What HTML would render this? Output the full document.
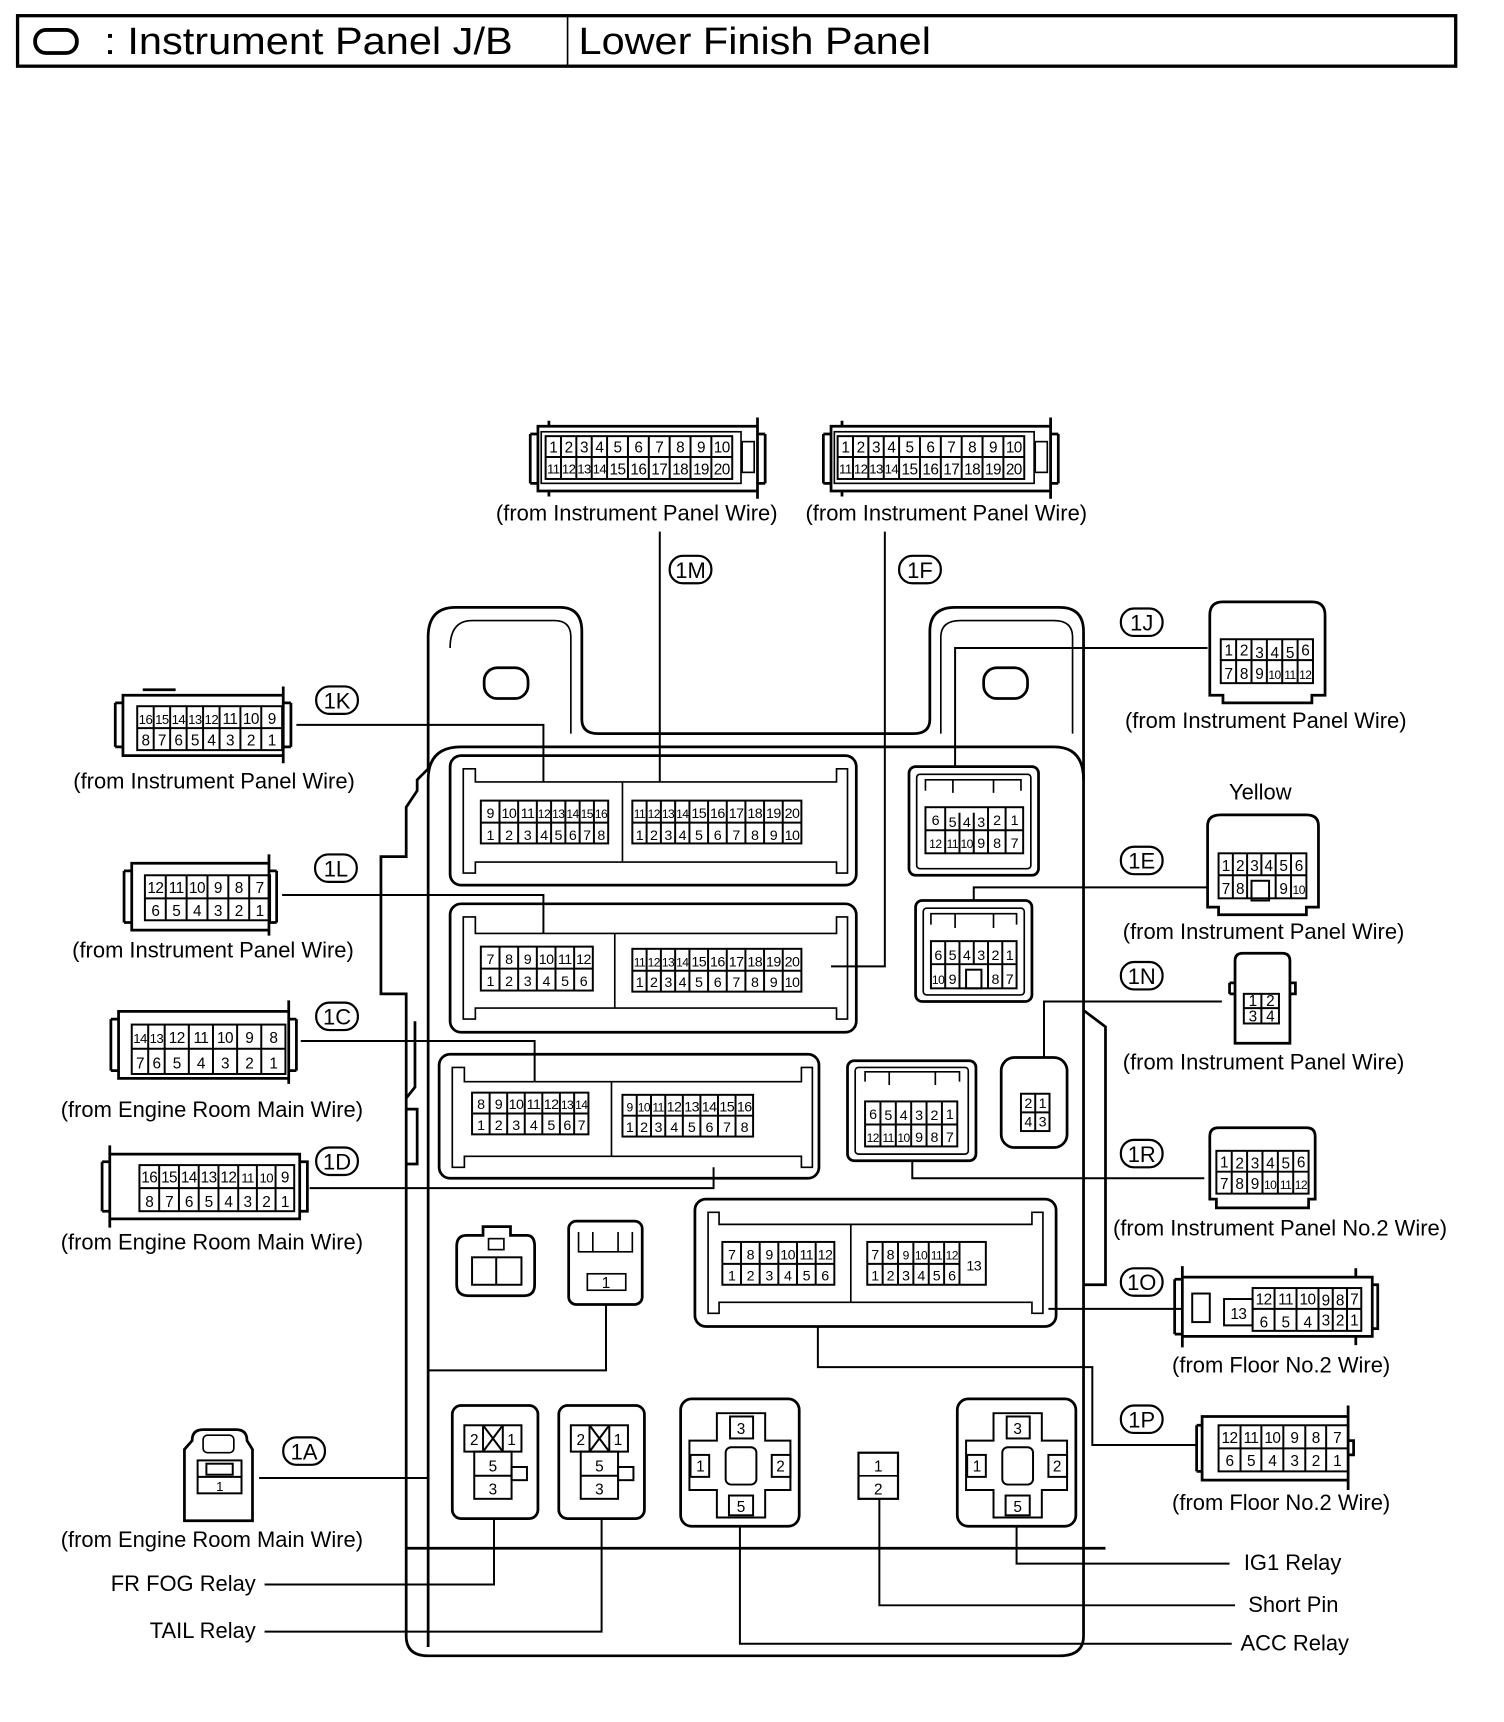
<!DOCTYPE html>
<html><head><meta charset="utf-8"><style>
html,body{margin:0;padding:0;background:#fff}
svg{display:block}
text{font-family:"Liberation Sans",sans-serif;fill:#000}
</style></head><body>
<svg width="1504" height="1722" viewBox="0 0 1370 1568" xmlns="http://www.w3.org/2000/svg">
<g fill="none" stroke="#000" stroke-width="2.5">
<rect x="16" y="14" width="1310" height="46" stroke-width="3"/>
<line x1="517" y1="14" x2="517" y2="60" stroke-width="1.5"/>
<rect x="32" y="27" width="38" height="21" rx="10" stroke-width="3.5"/>
</g>
<g font-size="35"><text x="95" y="49" textLength="372" lengthAdjust="spacingAndGlyphs">: Instrument Panel J/B</text><text x="527" y="49" textLength="321" lengthAdjust="spacingAndGlyphs">Lower Finish Panel</text></g>

<g fill="none" stroke="#000" stroke-width="2.5">
<path d="M390,580 Q390,553 415,553 L510,553 Q530,553 530,575 L530,655 Q530,668 545,668 L832,668 Q847,668 847,655 L847,575 Q847,553 870,553 L965,553 Q987,553 987,575 L987,1490 Q987,1508 965,1508 L390,1508 Q370,1508 370,1490 L370,905 L347,905 L347,780 L370,780 L370,735 L380,720 L380,710 L390,700 Z"/>
<path d="M390,1500 L390,710 Q390,680 420,680 L960,680 Q987,680 987,710"/>
<path d="M410,590 Q410,565 430,565 L505,565 Q520,565 520,580 L520,668" stroke-width="1.5"/>
<path d="M857,668 L857,580 Q857,565 875,565 L960,565 Q977,565 977,580 L977,668" stroke-width="1.5"/>
<rect x="441" y="608" width="40" height="28" rx="12"/>
<rect x="896" y="608" width="40" height="28" rx="12"/>
<path d="M987,920 L1007,935 L1007,1170 L987,1170"/>
<line x1="370" y1="1410" x2="1007" y2="1410"/>
<path d="M370,1000 L378,990 L378,930 M370,1010 L380,1010 L380,1060 L370,1060"/>
</g>

<g fill="none" stroke="#000" stroke-width="2.5">
<rect x="410" y="688" width="370" height="118" rx="10"/>
<path d="M422,700 L433,700 L433,712 L762,712 L762,700 L772,700 L772,795 L762,795 L762,785 L433,785 L433,795 L422,795 Z" stroke-width="1.5"/>
<line x1="567" y1="712" x2="567" y2="785" stroke-width="1.5"/>
<rect x="410" y="823" width="370" height="117" rx="10"/>
<path d="M422,835 L433,835 L433,850 L762,850 L762,835 L772,835 L772,928 L762,928 L762,918 L433,918 L433,928 L422,928 Z" stroke-width="1.5"/>
<line x1="560" y1="850" x2="560" y2="918" stroke-width="1.5"/>
<rect x="400" y="960" width="346" height="113" rx="10"/>
<path d="M412,972 L423,972 L423,985 L730,985 L730,972 L740,972 L740,1063 L730,1063 L730,1053 L423,1053 L423,1063 L412,1063 Z" stroke-width="1.5"/>
<line x1="557" y1="985" x2="557" y2="1053" stroke-width="1.5"/>
<rect x="633" y="1092" width="329" height="116" rx="10"/>
<path d="M645,1104 L655,1104 L655,1115 L940,1115 L940,1104 L950,1104 L950,1196 L940,1196 L940,1186 L655,1186 L655,1196 L645,1196 Z" stroke-width="1.5"/>
<line x1="775" y1="1115" x2="775" y2="1186" stroke-width="1.5"/>
<rect x="828" y="698" width="118" height="99" rx="6"/>
<rect x="835" y="705" width="104" height="86" rx="3" stroke-width="1.5"/>
<path d="M843,720 L843,710 L930,710 L930,720 M868,710 L868,722 M905,710 L905,722" stroke-width="1.5"/>
<rect x="834" y="820" width="106" height="92" rx="6"/>
<rect x="841" y="827" width="92" height="79" rx="3" stroke-width="1.5"/>
<path d="M848,842 L848,832 L926,832 L926,842 M870,832 L870,845 M905,832 L905,845" stroke-width="1.5"/>
<rect x="772" y="966" width="117" height="91" rx="6"/>
<rect x="779" y="972" width="103" height="79" rx="3" stroke-width="1.5"/>
<path d="M788,985 L788,976 L874,976 L874,985 M810,976 L810,988 M852,976 L852,988" stroke-width="1.5"/>
<rect x="912" y="963" width="60" height="82" rx="12"/>
<path d="M425,1125 L440,1125 L440,1117 L465,1117 L465,1125 L480,1125 Q487,1125 487,1135 L487,1170 Q487,1180 477,1180 L427,1180 Q416,1180 416,1170 L416,1135 Q416,1125 425,1125 Z"/>
<rect x="430" y="1145" width="45" height="25" stroke-width="1.8"/>
<line x1="452" y1="1145" x2="452" y2="1170" stroke-width="1.8"/>
<rect x="445" y="1128" width="14" height="10" stroke-width="1.5"/>
<rect x="518" y="1112" width="67" height="76" rx="7"/>
<path d="M527,1122 L527,1140 L576,1140 L576,1122 M540,1122 L540,1140 M563,1122 L563,1140" stroke-width="1.5"/>
<rect x="535" y="1160" width="35" height="15" stroke-width="1.5"/>
<rect x="412" y="1280" width="78" height="103" rx="8"/>
<rect x="509" y="1280" width="78" height="103" rx="8"/>
<rect x="620" y="1274" width="108" height="116" rx="10"/>
<rect x="872" y="1274" width="108" height="116" rx="10"/>
<rect x="782" y="1323" width="36" height="42" stroke-width="2"/>
<line x1="782" y1="1344" x2="818" y2="1344" stroke-width="1.5"/>
</g>

<g fill="none" stroke="#000" stroke-width="1.8">
<g>
<rect x="423" y="1298" width="52" height="24"/><line x1="440" y1="1298" x2="440" y2="1322"/><line x1="458" y1="1298" x2="458" y2="1322"/>
<line x1="440" y1="1298" x2="458" y2="1322"/><line x1="458" y1="1298" x2="440" y2="1322"/>
<rect x="432" y="1322" width="34" height="43"/><line x1="432" y1="1344" x2="466" y2="1344"/>
<rect x="466" y="1336" width="14" height="12"/>
</g>
<g transform="translate(97,0)">
<rect x="423" y="1298" width="52" height="24"/><line x1="440" y1="1298" x2="440" y2="1322"/><line x1="458" y1="1298" x2="458" y2="1322"/>
<line x1="440" y1="1298" x2="458" y2="1322"/><line x1="458" y1="1298" x2="440" y2="1322"/>
<rect x="432" y="1322" width="34" height="43"/><line x1="432" y1="1344" x2="466" y2="1344"/>
<rect x="466" y="1336" width="14" height="12"/>
</g>
<g>
<path d="M653,1287 L697,1287 L697,1312 L720,1312 L720,1357 L697,1357 L697,1382 L653,1382 L653,1357 L628,1357 L628,1312 L653,1312 Z"/>
<rect x="665" y="1290" width="21" height="20"/><rect x="629" y="1325" width="17" height="20"/><rect x="703" y="1325" width="17" height="20"/><rect x="664" y="1362" width="22" height="18"/>
<rect x="661" y="1318" width="28" height="34" rx="5"/>
</g>
<g transform="translate(252,0)">
<path d="M653,1287 L697,1287 L697,1312 L720,1312 L720,1357 L697,1357 L697,1382 L653,1382 L653,1357 L628,1357 L628,1312 L653,1312 Z"/>
<rect x="665" y="1290" width="21" height="20"/><rect x="629" y="1325" width="17" height="20"/><rect x="703" y="1325" width="17" height="20"/><rect x="664" y="1362" width="22" height="18"/>
<rect x="661" y="1318" width="28" height="34" rx="5"/>
</g>
</g>
<g font-size="14" text-anchor="middle">
<text x="432" y="1316">2</text><text x="466" y="1316">1</text><text x="449" y="1340">5</text><text x="449" y="1361">3</text>
<text x="529" y="1316">2</text><text x="563" y="1316">1</text><text x="546" y="1340">5</text><text x="546" y="1361">3</text>
<text x="675" y="1306">3</text><text x="638" y="1340">1</text><text x="711" y="1340">2</text><text x="675" y="1377">5</text>
<text x="927" y="1306">3</text><text x="890" y="1340">1</text><text x="963" y="1340">2</text><text x="927" y="1377">5</text>
<text x="800" y="1340">1</text><text x="800" y="1361">2</text>
<text x="552" y="1173">1</text>
</g>

<g fill="none" stroke="#000" stroke-width="1.8">
<rect x="438" y="729" width="116" height="39"/><line x1="438" y1="749" x2="554" y2="749"/>
<path d="M455,729V768M472,729V768M489,729V768M502,729V768M515,729V768M528,729V768M541,729V768"/>
<rect x="576" y="729" width="154" height="39"/><line x1="576" y1="749" x2="730" y2="749"/>
<path d="M589,729V768M602,729V768M615,729V768M628,729V768M645,729V768M662,729V768M679,729V768M696,729V768M713,729V768"/>
<rect x="438" y="862" width="102" height="40"/><line x1="438" y1="882" x2="540" y2="882"/>
<path d="M455,862V902M472,862V902M489,862V902M506,862V902M523,862V902"/>
<rect x="576" y="864" width="154" height="39"/><line x1="576" y1="884" x2="730" y2="884"/>
<path d="M589,864V903M602,864V903M615,864V903M628,864V903M645,864V903M662,864V903M679,864V903M696,864V903M713,864V903"/>
<rect x="430" y="995" width="106" height="38"/><line x1="430" y1="1014" x2="536" y2="1014"/>
<path d="M446,995V1033M462,995V1033M478,995V1033M494,995V1033M510,995V1033M523,995V1033"/>
<rect x="567" y="997" width="119" height="38"/><line x1="567" y1="1016" x2="686" y2="1016"/>
<path d="M580,997V1035M593,997V1035M606,997V1035M622,997V1035M638,997V1035M654,997V1035M670,997V1035"/>
<rect x="843" y="735" width="89" height="42"/><line x1="843" y1="756" x2="932" y2="756"/>
<path d="M861,735V777M874,740V777M887,740V777M900,735V777M916,735V777"/>
<rect x="848" y="857" width="78" height="43"/><line x1="848" y1="878" x2="926" y2="878"/>
<path d="M861,857V900M874,857V878M887,857V878M900,857V900M913,857V900M874,878V900"/>
<rect x="880" y="883" width="14" height="17"/>
<rect x="788" y="1003" width="84" height="41"/><line x1="788" y1="1024" x2="872" y2="1024"/>
<path d="M802,1003V1044M816,1003V1044M830,1003V1044M844,1003V1044M858,1003V1044"/>
<rect x="930" y="996" width="26" height="34"/><line x1="930" y1="1013" x2="956" y2="1013"/><line x1="943" y1="996" x2="943" y2="1030"/>
<rect x="658" y="1131" width="102" height="39"/><line x1="658" y1="1151" x2="760" y2="1151"/>
<path d="M675,1131V1170M692,1131V1170M709,1131V1170M726,1131V1170M743,1131V1170"/>
<rect x="790" y="1131" width="108" height="39"/><line x1="790" y1="1151" x2="874" y2="1151"/>
<path d="M804,1131V1170M818,1131V1170M832,1131V1170M846,1131V1170M860,1131V1170M874,1131V1170"/>
</g>
<g font-size="13" text-anchor="middle" letter-spacing="-0.5">
<text x="446.5" y="745">9</text><text x="463.5" y="745">10</text><text x="480.5" y="745">11</text><text x="495.5" y="745" font-size="11">12</text><text x="508.5" y="745" font-size="11">13</text><text x="521.5" y="745" font-size="11">14</text><text x="534.5" y="745" font-size="11">15</text><text x="547.5" y="745" font-size="11">16</text>
<text x="446.5" y="765">1</text><text x="463.5" y="765">2</text><text x="480.5" y="765">3</text><text x="495.5" y="765">4</text><text x="508.5" y="765">5</text><text x="521.5" y="765">6</text><text x="534.5" y="765">7</text><text x="547.5" y="765">8</text>
<text x="582.5" y="745" font-size="11">11</text><text x="595.5" y="745" font-size="11">12</text><text x="608.5" y="745" font-size="11">13</text><text x="621.5" y="745" font-size="11">14</text><text x="636.5" y="745">15</text><text x="653.5" y="745">16</text><text x="670.5" y="745">17</text><text x="687.5" y="745">18</text><text x="704.5" y="745">19</text><text x="721.5" y="745">20</text>
<text x="582.5" y="765">1</text><text x="595.5" y="765">2</text><text x="608.5" y="765">3</text><text x="621.5" y="765">4</text><text x="636.5" y="765">5</text><text x="653.5" y="765">6</text><text x="670.5" y="765">7</text><text x="687.5" y="765">8</text><text x="704.5" y="765">9</text><text x="721.5" y="765">10</text>
<text x="446.5" y="878">7</text><text x="463.5" y="878">8</text><text x="480.5" y="878">9</text><text x="497.5" y="878">10</text><text x="514.5" y="878">11</text><text x="531.5" y="878">12</text>
<text x="446.5" y="898">1</text><text x="463.5" y="898">2</text><text x="480.5" y="898">3</text><text x="497.5" y="898">4</text><text x="514.5" y="898">5</text><text x="531.5" y="898">6</text>
<text x="582.5" y="880" font-size="11">11</text><text x="595.5" y="880" font-size="11">12</text><text x="608.5" y="880" font-size="11">13</text><text x="621.5" y="880" font-size="11">14</text><text x="636.5" y="880">15</text><text x="653.5" y="880">16</text><text x="670.5" y="880">17</text><text x="687.5" y="880">18</text><text x="704.5" y="880">19</text><text x="721.5" y="880">20</text>
<text x="582.5" y="899">1</text><text x="595.5" y="899">2</text><text x="608.5" y="899">3</text><text x="621.5" y="899">4</text><text x="636.5" y="899">5</text><text x="653.5" y="899">6</text><text x="670.5" y="899">7</text><text x="687.5" y="899">8</text><text x="704.5" y="899">9</text><text x="721.5" y="899">10</text>
<text x="438" y="1010">8</text><text x="454" y="1010">9</text><text x="470" y="1010">10</text><text x="486" y="1010">11</text><text x="502" y="1010">12</text><text x="516.5" y="1010" font-size="11">13</text><text x="529.5" y="1010" font-size="11">14</text>
<text x="438" y="1029">1</text><text x="454" y="1029">2</text><text x="470" y="1029">3</text><text x="486" y="1029">4</text><text x="502" y="1029">5</text><text x="516.5" y="1029">6</text><text x="529.5" y="1029">7</text>
<text x="573.5" y="1012" font-size="11">9</text><text x="586.5" y="1012" font-size="11">10</text><text x="599.5" y="1012" font-size="11">11</text><text x="614" y="1012">12</text><text x="630" y="1012">13</text><text x="646" y="1012">14</text><text x="662" y="1012">15</text><text x="678" y="1012">16</text>
<text x="573.5" y="1031">1</text><text x="586.5" y="1031">2</text><text x="599.5" y="1031">3</text><text x="614" y="1031">4</text><text x="630" y="1031">5</text><text x="646" y="1031">6</text><text x="662" y="1031">7</text><text x="678" y="1031">8</text>
<text x="852" y="751">6</text><text x="867.5" y="753">5</text><text x="880.5" y="753">4</text><text x="893.5" y="753">3</text><text x="908" y="751">2</text><text x="924" y="751">1</text>
<text x="852" y="772" font-size="11">12</text><text x="867.5" y="772" font-size="11">11</text><text x="880.5" y="772" font-size="11">10</text><text x="893.5" y="772">9</text><text x="908" y="772">8</text><text x="924" y="772">7</text>
<text x="854.5" y="874">6</text><text x="867.5" y="874">5</text><text x="880.5" y="874">4</text><text x="893.5" y="874">3</text><text x="906.5" y="874">2</text><text x="919.5" y="874">1</text>
<text x="854.5" y="896" font-size="11">10</text><text x="867.5" y="896">9</text><text x="906.5" y="896">8</text><text x="919.5" y="896">7</text>
<text x="795" y="1019">6</text><text x="809" y="1020">5</text><text x="823" y="1020">4</text><text x="837" y="1020">3</text><text x="851" y="1020">2</text><text x="865" y="1019">1</text>
<text x="795" y="1040" font-size="11">12</text><text x="809" y="1040" font-size="11">11</text><text x="823" y="1040" font-size="11">10</text><text x="837" y="1040">9</text><text x="851" y="1040">8</text><text x="865" y="1040">7</text>
<text x="936.5" y="1009">2</text><text x="949.5" y="1009">1</text><text x="936.5" y="1026">4</text><text x="949.5" y="1026">3</text>
<text x="666.5" y="1147">7</text><text x="683.5" y="1147">8</text><text x="700.5" y="1147">9</text><text x="717.5" y="1147">10</text><text x="734.5" y="1147">11</text><text x="751.5" y="1147">12</text>
<text x="666.5" y="1166">1</text><text x="683.5" y="1166">2</text><text x="700.5" y="1166">3</text><text x="717.5" y="1166">4</text><text x="734.5" y="1166">5</text><text x="751.5" y="1166">6</text>
<text x="797" y="1147">7</text><text x="811" y="1147">8</text><text x="825" y="1147" font-size="11">9</text><text x="839" y="1147" font-size="11">10</text><text x="853" y="1147" font-size="11">11</text><text x="867" y="1147" font-size="11">12</text>
<text x="797" y="1166">1</text><text x="811" y="1166">2</text><text x="825" y="1166">3</text><text x="839" y="1166">4</text><text x="853" y="1166">5</text><text x="867" y="1166">6</text>
<text x="887" y="1157">13</text>
</g>

<g fill="none" stroke="#000" stroke-width="2.5">
<path d="M490,388 L690,388 L690,447 L490,447 Z M483,395 L490,395 M483,440 L490,440 M483,395 L483,440 M690,380 L690,388 M697,395 L697,440 M690,395 L697,395 M690,440 L697,440 M690,447 L690,454 M500,383 L500,388 M500,447 L500,452"/>
<rect x="493" y="393" width="182" height="47" stroke-width="1.5"/>
<rect x="676" y="402" width="11" height="28" stroke-width="1.5"/>
<path d="M757,388 L957,388 L957,447 L757,447 Z M750,395 L757,395 M750,440 L757,440 M750,395 L750,440 M957,380 L957,388 M964,395 L964,440 M957,395 L964,395 M957,440 L964,440 M957,447 L957,454 M767,383 L767,388 M767,447 L767,452"/>
<rect x="760" y="393" width="182" height="47" stroke-width="1.5"/>
<rect x="943" y="402" width="11" height="28" stroke-width="1.5"/>
<path d="M112,633 L258,633 L258,688 L112,688 Z M105,640 L112,640 M105,680 L112,680 M105,640 L105,680 M258,625 L258,695 M265,640 L265,680 M258,640 L265,640 M258,680 L265,680 M130,628 L160,628"/>
<path d="M120,786 L245,786 L245,847 L120,847 Z M113,793 L120,793 M113,840 L120,840 M113,793 L113,840 M245,778 L245,852 M252,793 L252,840 M245,793 L252,793 M245,840 L252,840"/>
<path d="M108,921 L263,921 L263,982 L108,982 Z M101,928 L108,928 M101,975 L108,975 M101,928 L101,975 M263,911 L263,987 M270,928 L270,975 M263,928 L270,928 M263,975 L270,975"/>
<path d="M100,1051 L273,1051 L273,1110 L100,1110 Z M93,1058 L100,1058 M93,1103 L100,1103 M93,1058 L93,1103 M100,1043 L100,1051 M100,1110 L100,1118 M273,1058 L280,1058 L280,1103 L273,1103"/>
<path d="M175,1312 Q175,1302 185,1302 L215,1302 Q225,1302 225,1312 L230,1320 L230,1385 L168,1385 L168,1320 Z"/>
<rect x="185" y="1307" width="28" height="16" rx="4" stroke-width="1.5"/>
<path d="M1102,560 Q1102,548 1114,548 L1195,548 Q1207,548 1207,560 L1207,633 L1195,633 L1195,640 L1114,640 L1114,633 L1102,633 Z"/>
<path d="M1100,752 Q1100,742 1112,742 L1190,742 Q1201,742 1201,752 L1201,826 L1190,826 L1190,833 L1110,833 L1110,826 L1100,826 Z"/>
<path d="M1125,875 Q1125,868 1132,868 L1168,868 Q1175,868 1175,875 L1175,950 L1125,950 Z M1120,895 L1125,895 M1120,905 L1125,905 M1120,895 L1120,905 M1175,895 L1180,895 L1180,905 L1175,905"/>
<path d="M1102,1035 Q1102,1027 1110,1027 L1190,1027 Q1198,1027 1198,1035 L1198,1092 L1192,1092 L1192,1100 L1108,1100 L1108,1092 L1102,1092 Z"/>
<path d="M1077,1153 L1077,1227 M1070,1165 L1077,1165 M1070,1215 L1077,1215 M1070,1165 L1070,1215 M1077,1163 L1250,1163 L1250,1217 L1077,1217 M1250,1170 L1255,1170 L1255,1210 L1250,1210 M1235,1155 L1235,1163 M1235,1217 L1235,1225"/>
<path d="M1095,1290 L1228,1290 L1228,1348 L1095,1348 Z M1090,1298 L1095,1298 M1090,1340 L1095,1340 M1090,1298 L1090,1340 M1228,1280 L1228,1357 M1228,1312 L1233,1312 L1233,1325 L1228,1325"/>
</g>
<g fill="none" stroke="#000" stroke-width="1.8">
<rect x="497" y="397" width="170" height="39"/><line x1="497" y1="416" x2="667" y2="416"/>
<path d="M511,397V436M525,397V436M539,397V436M553,397V436M572,397V436M591,397V436M610,397V436M629,397V436M648,397V436"/>
<rect x="763" y="397" width="170" height="39"/><line x1="763" y1="416" x2="933" y2="416"/>
<path d="M777,397V436M791,397V436M805,397V436M819,397V436M838,397V436M857,397V436M876,397V436M895,397V436M914,397V436"/>
<rect x="125" y="643" width="132" height="40"/><line x1="125" y1="663" x2="257" y2="663"/>
<path d="M140,643V683M155,643V683M170,643V683M185,643V683M200,643V683M219,643V683M238,643V683"/>
<rect x="132" y="797" width="114" height="41"/><line x1="132" y1="818" x2="246" y2="818"/>
<path d="M151,797V838M170,797V838M189,797V838M208,797V838M227,797V838"/>
<rect x="120" y="933" width="140" height="45"/><line x1="120" y1="955" x2="260" y2="955"/>
<path d="M135,933V978M150,933V978M172,933V978M194,933V978M216,933V978M238,933V978"/>
<rect x="127" y="1061" width="141" height="42"/><line x1="127" y1="1082" x2="268" y2="1082"/>
<path d="M145,1061V1103M163,1061V1103M181,1061V1103M199,1061V1103M217,1061V1103M234,1061V1103M251,1061V1103"/>
<rect x="180" y="1330" width="40" height="30"/><line x1="180" y1="1345" x2="220" y2="1345"/>
<rect x="188" y="1333" width="24" height="10"/>
<rect x="1112" y="582" width="84" height="40"/><line x1="1112" y1="601" x2="1196" y2="601"/>
<path d="M1126,582V622M1140,582V622M1154,582V622M1168,582V622M1182,582V622"/>
<rect x="1110" y="777" width="80" height="41"/><line x1="1110" y1="797" x2="1190" y2="797"/>
<path d="M1123,777V818M1136,777V818M1149,777V797M1162,777V818M1176,777V818"/>
<rect x="1140" y="802" width="16" height="18"/>
<rect x="1133" y="905" width="32" height="27"/><line x1="1133" y1="918" x2="1165" y2="918"/><line x1="1149" y1="905" x2="1149" y2="932"/>
<rect x="1108" y="1048" width="84" height="39"/><line x1="1108" y1="1067" x2="1192" y2="1067"/>
<path d="M1122,1048V1087M1136,1048V1087M1150,1048V1087M1164,1048V1087M1178,1048V1087"/>
<rect x="1115" y="1183" width="26" height="24"/>
<rect x="1141" y="1173" width="99" height="39"/><line x1="1141" y1="1192" x2="1240" y2="1192"/>
<path d="M1161,1173V1212M1181,1173V1212M1201,1173V1212M1214,1173V1212M1227,1173V1212"/>
<rect x="1086" y="1178" width="16" height="26"/>
<rect x="1110" y="1298" width="118" height="42"/><line x1="1110" y1="1319" x2="1228" y2="1319"/>
<path d="M1130,1298V1340M1149,1298V1340M1169,1298V1340M1189,1298V1340M1208,1298V1340"/>
</g>
<g font-size="14" text-anchor="middle" letter-spacing="-0.5">
<text x="504" y="412">1</text><text x="518" y="412">2</text><text x="532" y="412">3</text><text x="546" y="412">4</text><text x="562.5" y="412">5</text><text x="581.5" y="412">6</text><text x="600.5" y="412">7</text><text x="619.5" y="412">8</text><text x="638.5" y="412">9</text><text x="657.5" y="412">10</text>
<g font-size="12"><text x="504" y="431">11</text><text x="518" y="431">12</text><text x="532" y="431">13</text><text x="546" y="431">14</text></g><text x="562.5" y="432">15</text><text x="581.5" y="432">16</text><text x="600.5" y="432">17</text><text x="619.5" y="432">18</text><text x="638.5" y="432">19</text><text x="657.5" y="432">20</text>
<text x="770" y="412">1</text><text x="784" y="412">2</text><text x="798" y="412">3</text><text x="812" y="412">4</text><text x="828.5" y="412">5</text><text x="847.5" y="412">6</text><text x="866.5" y="412">7</text><text x="885.5" y="412">8</text><text x="904.5" y="412">9</text><text x="923.5" y="412">10</text>
<g font-size="12"><text x="770" y="431">11</text><text x="784" y="431">12</text><text x="798" y="431">13</text><text x="812" y="431">14</text></g><text x="828.5" y="432">15</text><text x="847.5" y="432">16</text><text x="866.5" y="432">17</text><text x="885.5" y="432">18</text><text x="904.5" y="432">19</text><text x="923.5" y="432">20</text>
<g font-size="12"><text x="132.5" y="659">16</text><text x="147.5" y="659">15</text><text x="162.5" y="659">14</text><text x="177.5" y="659">13</text><text x="192.5" y="659">12</text></g><text x="209.5" y="659">11</text><text x="228.5" y="659">10</text><text x="247.5" y="659">9</text>
<text x="132.5" y="679">8</text><text x="147.5" y="679">7</text><text x="162.5" y="679">6</text><text x="177.5" y="679">5</text><text x="192.5" y="679">4</text><text x="209.5" y="679">3</text><text x="228.5" y="679">2</text><text x="247.5" y="679">1</text>
<text x="141.5" y="813">12</text><text x="160.5" y="813">11</text><text x="179.5" y="813">10</text><text x="198.5" y="813">9</text><text x="217.5" y="813">8</text><text x="236.5" y="813">7</text>
<text x="141.5" y="834">6</text><text x="160.5" y="834">5</text><text x="179.5" y="834">4</text><text x="198.5" y="834">3</text><text x="217.5" y="834">2</text><text x="236.5" y="834">1</text>
<g font-size="12"><text x="127.5" y="950">14</text><text x="142.5" y="950">13</text></g><text x="161" y="950">12</text><text x="183" y="950">11</text><text x="205" y="950">10</text><text x="227" y="950">9</text><text x="249" y="950">8</text>
<text x="127.5" y="973">7</text><text x="142.5" y="973">6</text><text x="161" y="973">5</text><text x="183" y="973">4</text><text x="205" y="973">3</text><text x="227" y="973">2</text><text x="249" y="973">1</text>
<text x="136" y="1077">16</text><text x="154" y="1077">15</text><text x="172" y="1077">14</text><text x="190" y="1077">13</text><text x="208" y="1077">12</text><g font-size="12"><text x="225.5" y="1077">11</text><text x="242.5" y="1077">10</text></g><text x="259.5" y="1077">9</text>
<text x="136" y="1099">8</text><text x="154" y="1099">7</text><text x="172" y="1099">6</text><text x="190" y="1099">5</text><text x="208" y="1099">4</text><text x="225.5" y="1099">3</text><text x="242.5" y="1099">2</text><text x="259.5" y="1099">1</text>
<text x="200" y="1358" font-size="12">1</text>
<text x="1119" y="597">1</text><text x="1133" y="597">2</text><text x="1147" y="599">3</text><text x="1161" y="599">4</text><text x="1175" y="599">5</text><text x="1189" y="597">6</text>
<text x="1119" y="618">7</text><text x="1133" y="618">8</text><text x="1147" y="618">9</text><g font-size="11"><text x="1161" y="618">10</text><text x="1175" y="618">11</text><text x="1189" y="618">12</text></g>
<text x="1116.5" y="793">1</text><text x="1129.5" y="793">2</text><text x="1142.5" y="793">3</text><text x="1155.5" y="793">4</text><text x="1169" y="793">5</text><text x="1183" y="793">6</text>
<text x="1116.5" y="814">7</text><text x="1129.5" y="814">8</text><text x="1169" y="814">9</text><text x="1183" y="814" font-size="11">10</text>
<text x="1141" y="916">1</text><text x="1157" y="916">2</text><text x="1141" y="930">3</text><text x="1157" y="930">4</text>
<text x="1115" y="1063">1</text><text x="1129" y="1064">2</text><text x="1143" y="1064">3</text><text x="1157" y="1064">4</text><text x="1171" y="1064">5</text><text x="1185" y="1063">6</text>
<text x="1115" y="1083">7</text><text x="1129" y="1083">8</text><text x="1143" y="1083">9</text><g font-size="11"><text x="1157" y="1083">10</text><text x="1171" y="1083">11</text><text x="1185" y="1083">12</text></g>
<text x="1128" y="1201">13</text>
<text x="1151" y="1188">12</text><text x="1171" y="1188">11</text><text x="1191" y="1188">10</text><text x="1207.5" y="1189">9</text><text x="1220.5" y="1189">8</text><text x="1233.5" y="1188">7</text>
<text x="1151" y="1209">6</text><text x="1171" y="1209">5</text><text x="1191" y="1209">4</text><text x="1207.5" y="1207">3</text><text x="1220.5" y="1207">2</text><text x="1233.5" y="1207">1</text>
<text x="1120" y="1314">12</text><text x="1139.5" y="1314">11</text><text x="1159" y="1314">10</text><text x="1179" y="1314">9</text><text x="1198.5" y="1314">8</text><text x="1218" y="1314">7</text>
<text x="1120" y="1335">6</text><text x="1139.5" y="1335">5</text><text x="1159" y="1335">4</text><text x="1179" y="1335">3</text><text x="1198.5" y="1335">2</text><text x="1218" y="1335">1</text>
</g>

<g fill="none" stroke="#000" stroke-width="1.8">
<path d="M601,484 V712"/>
<path d="M806,484 V880 H757"/>
<path d="M270,660 H495 V712"/>
<path d="M257,815 H495 V850"/>
<path d="M274,948 H487 V985"/>
<path d="M282,1082 H650 V1063"/>
<path d="M1100,590 H870 V698"/>
<path d="M1100,808 H887 V820"/>
<path d="M1113,912 H951 V963"/>
<path d="M1097,1073 H831 V1057"/>
<path d="M1078,1192 H955"/>
<path d="M1090,1316 H995 V1245 H745 V1208"/>
<path d="M236,1346 H390 V1248 H552 V1188"/>
<path d="M241,1443 H450 V1383"/>
<path d="M241,1486 H548 V1383"/>
<path d="M1122,1497 H674 V1390"/>
<path d="M1125,1462 H801 V1365"/>
<path d="M1120,1424 H926 V1390"/>
</g>

<g fill="#fff" stroke="#000" stroke-width="2">
<rect x="610" y="506" width="38" height="25" rx="12"/>
<rect x="819" y="506" width="38" height="25" rx="12"/>
<rect x="288" y="625" width="38" height="25" rx="12"/>
<rect x="1021" y="554" width="38" height="25" rx="12"/>
<rect x="287" y="778" width="38" height="25" rx="12"/>
<rect x="1021" y="771" width="38" height="25" rx="12"/>
<rect x="288" y="913" width="38" height="25" rx="12"/>
<rect x="1021" y="876" width="38" height="25" rx="12"/>
<rect x="288" y="1045" width="38" height="25" rx="12"/>
<rect x="1021" y="1038" width="38" height="25" rx="12"/>
<rect x="1021" y="1155" width="38" height="25" rx="12"/>
<rect x="1021" y="1280" width="38" height="25" rx="12"/>
<rect x="258" y="1309" width="38" height="25" rx="12"/>
</g>
<g font-size="20" text-anchor="middle">
<text x="629" y="526">1M</text><text x="838" y="526">1F</text><text x="307" y="645">1K</text><text x="1040" y="574">1J</text>
<text x="306" y="798">1L</text><text x="1040" y="791">1E</text><text x="307" y="933">1C</text><text x="1040" y="896">1N</text>
<text x="307" y="1065">1D</text><text x="1040" y="1058">1R</text><text x="1040" y="1175">1O</text><text x="1040" y="1300">1P</text><text x="277" y="1329">1A</text>
</g>
<g font-size="20" text-anchor="middle">
<text x="580" y="474">(from Instrument Panel Wire)</text>
<text x="862" y="474">(from Instrument Panel Wire)</text>
<text x="195" y="718">(from Instrument Panel Wire)</text>
<text x="194" y="872">(from Instrument Panel Wire)</text>
<text x="193" y="1017">(from Engine Room Main Wire)</text>
<text x="193" y="1138">(from Engine Room Main Wire)</text>
<text x="193" y="1409">(from Engine Room Main Wire)</text>
<text x="1153" y="663">(from Instrument Panel Wire)</text>
<text x="1148" y="728">Yellow</text>
<text x="1151" y="855">(from Instrument Panel Wire)</text>
<text x="1151" y="974">(from Instrument Panel Wire)</text>
<text x="1166" y="1125">(from Instrument Panel No.2 Wire)</text>
<text x="1167" y="1250">(from Floor No.2 Wire)</text>
<text x="1167" y="1375">(from Floor No.2 Wire)</text>
</g>
<g font-size="20">
<text x="233" y="1449" text-anchor="end">FR FOG Relay</text>
<text x="233" y="1492" text-anchor="end">TAIL Relay</text>
<text x="1133" y="1430">IG1 Relay</text>
<text x="1137" y="1468">Short Pin</text>
<text x="1130" y="1503">ACC Relay</text>
</g>
</svg>
</body></html>
